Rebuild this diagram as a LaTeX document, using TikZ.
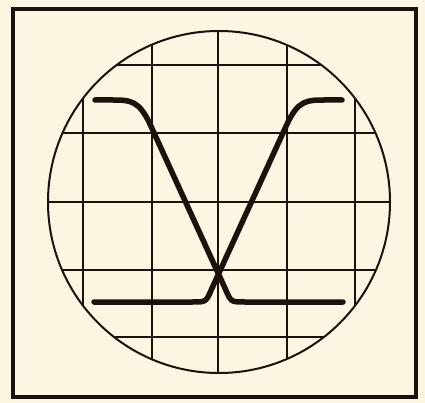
\documentclass[tikz,border=0pt]{standalone}
\usepackage{tikz}
\usetikzlibrary{calc}
\definecolor{paper}{HTML}{FBF5E1}
\definecolor{ink}{HTML}{1C120C}

% one sweep of the trace, left top to right bottom
\newcommand{\tracesweep}{(95,100) -- (112,100) .. controls (130,100) and (139,100) .. (150.4,125)
  -- (225.8,290) .. controls (231,302) .. (245,302) -- (343,302)}

\begin{document}
\begin{tikzpicture}[
  x=1pt, y=-1pt,
  frame/.style={draw=ink, line width=3.2pt},
  gridline/.style={draw=ink, line width=1.6pt},
  screen/.style={draw=ink, line width=2pt},
  trace/.style={draw=ink, line width=5.5pt, line cap=round, line join=round}
]
  \useasboundingbox[fill=paper] (0,0) rectangle (425,403);

  % Frame
  \draw[frame] (13,9) rectangle (416,397);

  % Screen
  \coordinate (c) at (219,202);
  \begin{scope}
    \clip (c) circle[radius=171];
    \foreach \gx in {83,152,218,287,355}
      \draw[gridline] (\gx,20) -- (\gx,390);
    \foreach \gy in {65,133,202,270,337}
      \draw[gridline] (30,\gy) -- (400,\gy);
  \end{scope}
  \draw[screen] (c) circle[radius=171];

  % Trace
  \draw[trace] \tracesweep;
  \begin{scope}[shift={(437,0)}, xscale=-1]
    \draw[trace] \tracesweep;
  \end{scope}
\end{tikzpicture}
\end{document}
